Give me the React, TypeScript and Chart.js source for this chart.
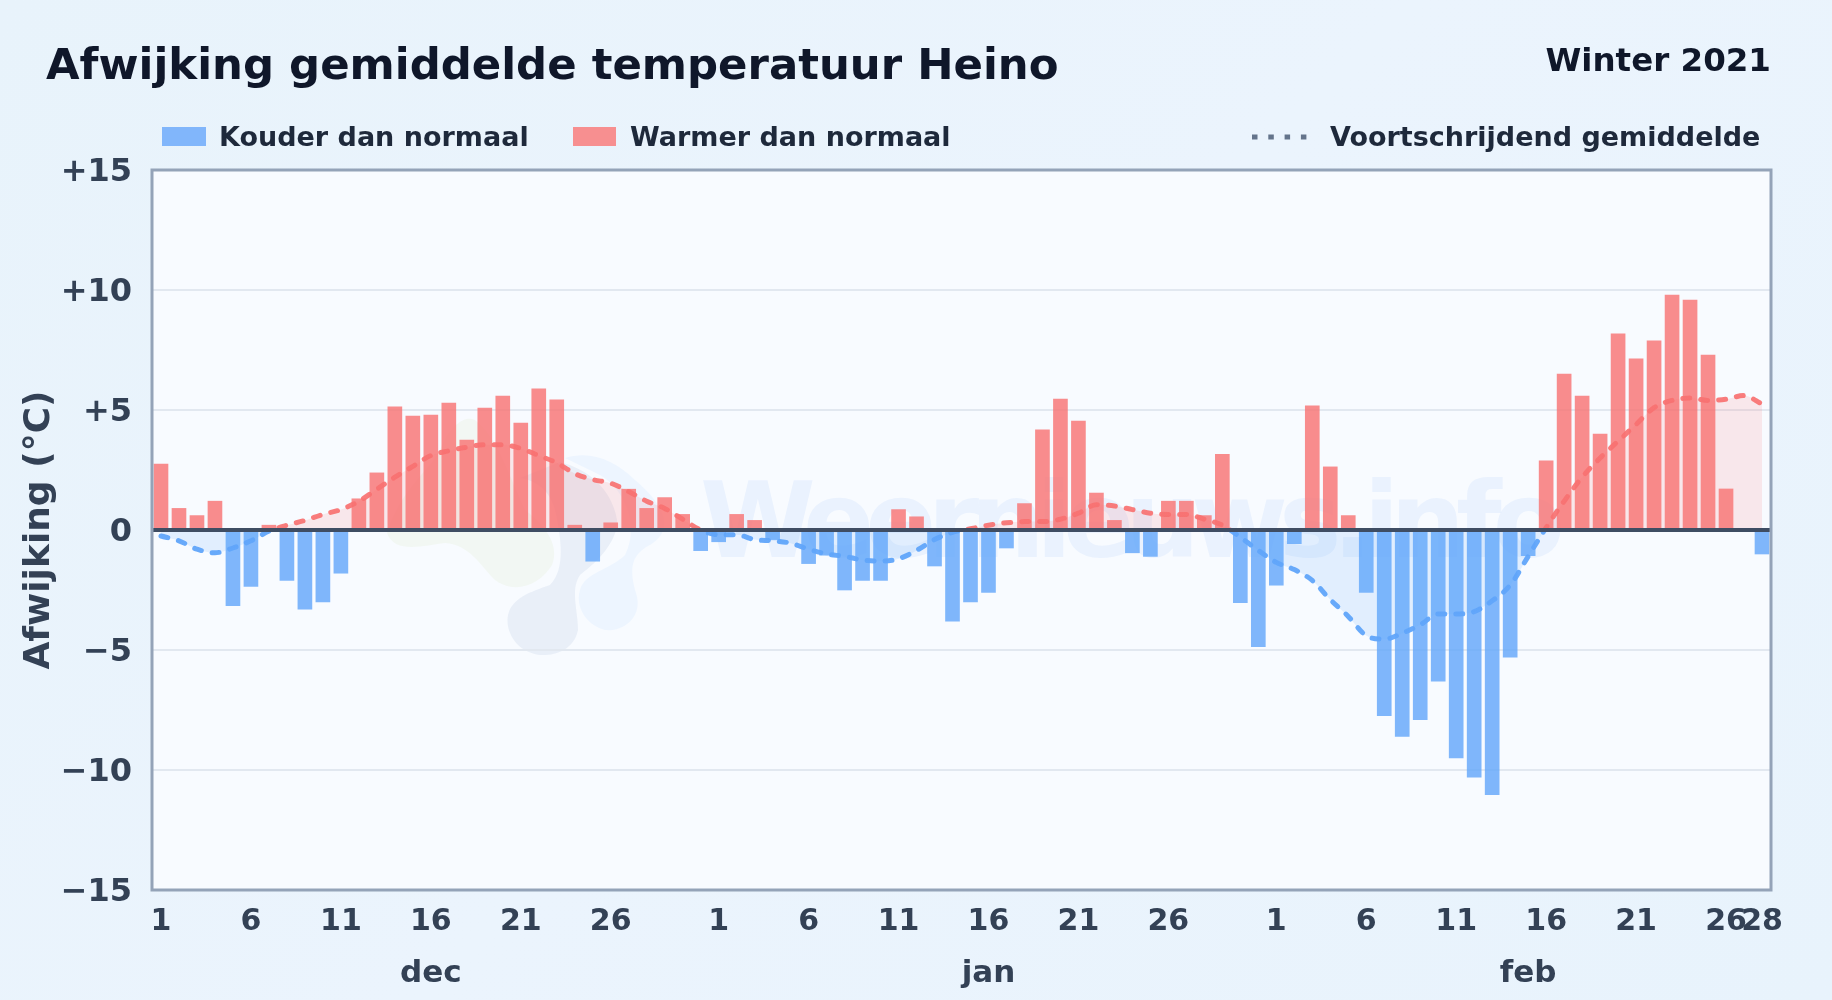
import React, { useEffect, useRef } from "react";
import { Chart, registerables } from "chart.js";

Chart.register(...registerables);

const FONT = "'DejaVu Sans', sans-serif";

const months = ["dec", "jan", "feb"];
const monthLengths = [31, 31, 28];
const monthLabelDays = [16, 16, 15];
const tickDays = [1, 6, 11, 16, 21, 26];
const extraFebTick = 28;
const yTicks = [-15, -10, -5, 0, 5, 10, 15];

const deviationDec = [2.75, 0.9, 0.6, 1.2, -3.15, -2.35, 0.2, -2.1, -3.3, -3.0, -1.8, 1.3, 2.38, 5.13, 4.75, 4.79, 5.29, 3.75, 5.08, 5.58, 4.46, 5.88, 5.42, 0.2, -1.3, 0.3, 1.7, 0.9, 1.35, 0.65, -0.86];
const deviationJan = [-0.49, 0.65, 0.4, -0.4, 0, -1.4, -1.05, -2.5, -2.1, -2.1, 0.85, 0.55, -1.5, -3.8, -3.0, -2.6, -0.75, 1.1, 4.17, 5.46, 4.54, 1.54, 0.4, -0.95, -1.1, 1.2, 1.2, 0.6, 3.15, -3.03, -4.86];
const deviationFeb = [-2.3, -0.57, 5.17, 2.63, 0.6, -2.6, -7.74, -8.6, -7.9, -6.3, -9.5, -10.3, -11.03, -5.3, -1.07, 2.88, 6.5, 5.58, 4.0, 8.17, 7.13, 7.88, 9.79, 9.58, 7.29, 1.71, 0, -1.0];

const movingDec = [-0.25, -0.45, -0.8, -0.95, -0.75, -0.45, -0.05, 0.2, 0.4, 0.65, 0.85, 1.2, 1.7, 2.2, 2.65, 3.1, 3.3, 3.45, 3.55, 3.55, 3.4, 3.1, 2.8, 2.35, 2.1, 1.95, 1.6, 1.2, 0.9, 0.45, 0.0];
const movingJan = [-0.2, -0.2, -0.4, -0.45, -0.55, -0.8, -1.0, -1.1, -1.25, -1.3, -1.2, -0.85, -0.4, -0.1, 0.05, 0.2, 0.3, 0.35, 0.35, 0.45, 0.7, 1.05, 1.0, 0.85, 0.7, 0.65, 0.65, 0.45, 0.2, -0.3, -0.85];
const movingFeb = [-1.35, -1.65, -2.1, -2.9, -3.6, -4.4, -4.55, -4.3, -3.95, -3.5, -3.5, -3.4, -2.95, -2.3, -1.1, 0.1, 1.2, 2.2, 3.0, 3.7, 4.4, 5.1, 5.4, 5.5, 5.4, 5.45, 5.6, 5.25];

const deviation = [...deviationDec, ...deviationJan, ...deviationFeb];
const moving = [...movingDec, ...movingJan, ...movingFeb];
const cold = deviation.map((v) => (v < 0 ? v : null));
const warm = deviation.map((v) => (v > 0 ? v : null));

const dayLabels: string[] = [];
const monthAxisLabels: string[] = [];
monthLengths.forEach((len, m) => {
  for (let d = 1; d <= len; d++) {
    const isTick = tickDays.includes(d) || (m === 2 && d === extraFebTick);
    dayLabels.push(isTick ? String(d) : "");
    monthAxisLabels.push(d === monthLabelDays[m] ? months[m] : "");
  }
});
const allIndexLabels = deviation.map((_, i) => String(i));

const COLD_BAR = "rgba(96,165,250,0.8)";
const WARM_BAR = "rgba(248,113,113,0.8)";

const framePlugin = {
  id: "frame",
  afterDatasetsDraw(chart: any) {
    const { ctx, chartArea: a, scales } = chart;
    const y0 = scales.y.getPixelForValue(0);
    ctx.save();
    ctx.strokeStyle = "#3f4d63";
    ctx.lineWidth = 4;
    ctx.beginPath();
    ctx.moveTo(a.left, y0);
    ctx.lineTo(a.right, y0);
    ctx.stroke();
    ctx.strokeStyle = "#94a3b8";
    ctx.lineWidth = 3;
    ctx.strokeRect(a.left, a.top, a.right - a.left, a.bottom - a.top);
    ctx.restore();
  },
};

function lineColor(ctx: any, pos: string, neg: string) {
  const { chartArea, scales, ctx: c } = ctx.chart;
  if (!chartArea) return pos;
  const g = c.createLinearGradient(0, chartArea.top, 0, chartArea.bottom);
  const t = (scales.y.getPixelForValue(0) - chartArea.top) / (chartArea.bottom - chartArea.top);
  g.addColorStop(0, pos);
  g.addColorStop(t, pos);
  g.addColorStop(t, neg);
  g.addColorStop(1, neg);
  return g;
}

const abs = (s: React.CSSProperties): React.CSSProperties => ({ position: "absolute", whiteSpace: "nowrap", fontFamily: FONT, ...s });

export default function App() {
  const ref = useRef<HTMLCanvasElement>(null);
  useEffect(() => {
    const chart = new Chart(ref.current as HTMLCanvasElement, {
      type: "bar",
      data: {
        labels: allIndexLabels,
        datasets: [
          { type: "line", label: "Voortschrijdend gemiddelde", data: moving, order: 0, cubicInterpolationMode: "monotone", borderWidth: 5, borderDash: [7, 11], borderCapStyle: "round", pointRadius: 0,
            borderColor: (c: any) => lineColor(c, "rgba(248,113,113,0.92)", "rgba(96,165,250,0.95)"),
            fill: { target: { value: 0 }, above: "rgba(248,113,113,0.14)", below: "rgba(96,165,250,0.15)" } },
          { label: "Kouder dan normaal", data: cold, order: 1, backgroundColor: COLD_BAR, barThickness: 14, grouped: false },
          { label: "Warmer dan normaal", data: warm, order: 1, backgroundColor: WARM_BAR, barThickness: 14, grouped: false },
        ],
      } as any,
      options: {
        responsive: false,
        animation: false,
        devicePixelRatio: 1,
        layout: { padding: { left: 0, right: 61, top: 170, bottom: 0 } },
        plugins: { legend: { display: false }, tooltip: { enabled: false } },
        scales: {
          x: {
            position: "bottom", weight: 0, offset: true,
            grid: { display: false, drawTicks: false }, border: { display: false },
            ticks: { autoSkip: false, maxRotation: 0, minRotation: 0, padding: 14, color: "#334155", font: { size: 30, weight: "bold", family: FONT }, callback: (_: any, i: number) => dayLabels[i] },
            afterFit: (s: any) => { s.height = 50; },
          },
          xm: {
            type: "category", labels: monthAxisLabels, position: "bottom", weight: 1, offset: true,
            grid: { display: false, drawTicks: false }, border: { display: false },
            ticks: { autoSkip: false, maxRotation: 0, minRotation: 0, padding: 15, color: "#334155", font: { size: 31, weight: "bold", family: FONT } },
            afterFit: (s: any) => { s.height = 60; },
          },
          y: {
            min: -15, max: 15, position: "left",
            afterBuildTicks: (s: any) => { s.ticks = yTicks.map((value) => ({ value })); },
            grid: { drawTicks: false, lineWidth: 2, color: (c: any) => (c.tick && (c.tick.value === 0 || Math.abs(c.tick.value) === 15) ? "rgba(0,0,0,0)" : "#e2e8f0") },
            border: { display: false },
            ticks: { padding: 20, labelOffset: 3, color: "#334155", font: { size: 32, weight: "bold", family: FONT }, callback: (v: any) => (v > 0 ? "+" + v : v < 0 ? "\u2212" + Math.abs(v) : "0") },
            title: { display: true, text: "Afwijking (\u00b0C)", color: "#334155", font: { size: 36, weight: "bold", family: FONT }, padding: { top: 18, bottom: 0 } },
            afterFit: (s: any) => { s.width = 152; },
          },
        },
      } as any,
      plugins: [framePlugin],
    });
    return () => chart.destroy();
  }, []);

  return (
    <div style={{ position: "absolute", left: 0, top: 0, width: 1832, height: 1000, overflow: "hidden", background: "linear-gradient(135deg,#e8f3fb 0%,#ebf4fd 50%,#e8f3fc 100%)" }}>
      <div style={{ position: "absolute", left: 152, top: 170, width: 1619, height: 720, background: "#f8fbff" }} />
      <svg width={1832} height={1000} style={{ position: "absolute", left: 0, top: 0 }}>
        <path d="M387 533 C400 490 430 470 440 450 C450 425 465 415 475 420 C500 440 510 480 525 510 C545 525 560 545 552 565 C540 585 515 595 495 580 C480 565 470 545 445 543 C425 545 395 555 387 533Z" fill="rgba(163,200,90,0.07)" />
        <path d="M560 462 C590 470 612 490 617 520 C618 540 600 560 580 575 C570 590 578 610 578 630 C574 650 555 656 540 655 C515 652 505 630 508 615 C512 598 530 592 550 585 C565 570 562 540 555 510 C550 490 535 480 520 478Z" fill="rgba(90,125,180,0.09)" />
        <path d="M565 458 C590 450 615 460 635 480 C665 505 675 530 650 545 C630 555 630 570 635 590 C645 615 625 632 605 630 C585 625 575 605 580 590 C585 572 610 570 625 555 C640 525 625 490 600 475Z" fill="rgba(96,165,250,0.07)" />
      </svg>
      <div style={abs({ left: 700, top: 461, fontSize: 105, lineHeight: "120px", letterSpacing: "-9px", fontWeight: 700, color: "rgba(59,130,246,0.07)" })}>Weernieuws.info</div>
      <canvas ref={ref} width={1832} height={1000} style={{ position: "absolute", left: 0, top: 0, width: 1832, height: 1000 }} />
      <div style={abs({ left: 46, top: 39, fontSize: 43.4, lineHeight: "50px", fontWeight: 700, color: "#0f172a" })}>Afwijking gemiddelde temperatuur Heino</div>
      <div style={abs({ right: 61, top: 42, fontSize: 32.5, lineHeight: "36px", fontWeight: 700, color: "#0f172a" })}>Winter 2021</div>
      <div style={{ position: "absolute", left: 162, top: 127, width: 44, height: 19, background: "#81b6fb" }} />
      <div style={abs({ left: 219, top: 120, fontSize: 27, lineHeight: "34px", fontWeight: 700, color: "#1e293b" })}>Kouder dan normaal</div>
      <div style={{ position: "absolute", left: 573, top: 127, width: 43, height: 19, background: "#f78f90" }} />
      <div style={abs({ left: 630, top: 120, fontSize: 27, lineHeight: "34px", fontWeight: 700, color: "#1e293b" })}>Warmer dan normaal</div>
      <svg width={70} height={10} style={{ position: "absolute", left: 1250, top: 132 }}>
        <line x1={2} y1={5} x2={60} y2={5} stroke="#64748b" strokeWidth={5} strokeDasharray="5.5 10.8" />
      </svg>
      <div style={abs({ left: 1330, top: 120, fontSize: 27, lineHeight: "34px", fontWeight: 700, color: "#1e293b" })}>Voortschrijdend gemiddelde</div>
    </div>
  );
}
